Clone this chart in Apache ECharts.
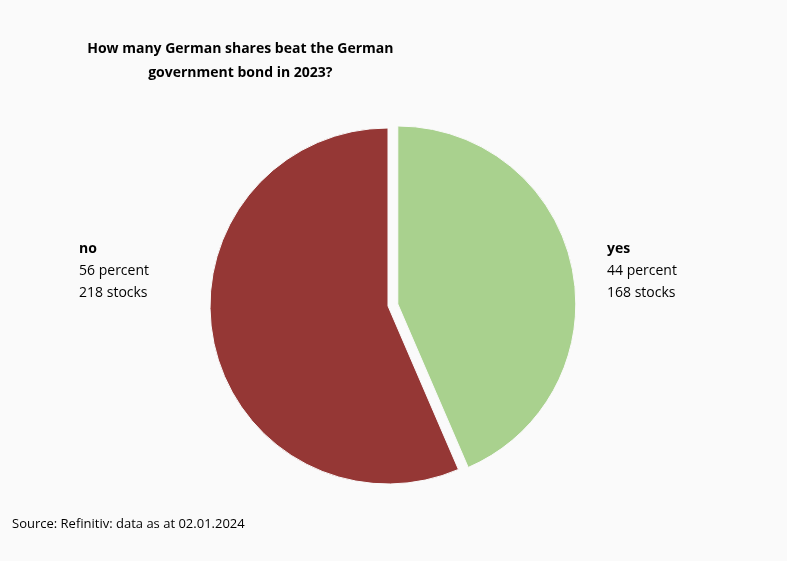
<!DOCTYPE html>
<html>
<head>
<meta charset="utf-8">
<script src="https://cdn.jsdelivr.net/npm/echarts@6/dist/echarts.min.js"></script>
<style>
  html, body { margin: 0; padding: 0; background: #fafafa; }
  #chart { width: 787px; height: 561px; }
</style>
</head>
<body>
<div id="chart"></div>
<script>
var CATEGORIES = ['yes', 'no'];
var STOCKS = [168, 218];
var PERCENTS = [44, 56];
var COLORS = ['#a9d18e', '#953735'];

var chart = echarts.init(document.getElementById('chart'), null, { renderer: 'canvas' });

function labelText(i) {
  return '{b|' + CATEGORIES[i] + '}\n' + PERCENTS[i] + ' percent\n' + STOCKS[i] + ' stocks';
}

var FONT = 'Open Sans, Liberation Sans, sans-serif';

chart.setOption({
  backgroundColor: '#fafafa',
  title: {
    text: 'How many German shares beat the German\ngovernment bond in 2023?',
    left: 'center', top: 32,
    textAlign: 'center',
    textStyle: { fontFamily: FONT, fontSize: 14, fontWeight: 'bold', color: '#000', lineHeight: 24 }
  },
  graphic: [
    {
      type: 'text', left: 12, top: 518,
      style: { text: 'Source: Refinitiv: data as at 02.01.2024', font: '13px ' + FONT, fill: '#000' }
    },
    {
      type: 'text', right: 638, top: 238,
      style: {
        text: labelText(1), align: 'right', font: '14px ' + FONT, fill: '#000', lineHeight: 22,
        rich: { b: { fontWeight: 'bold', fontSize: 14, fontFamily: FONT, lineHeight: 22 } }
      }
    },
    {
      type: 'text', left: 607, top: 238,
      style: {
        text: labelText(0), font: '14px ' + FONT, fill: '#000', lineHeight: 22,
        rich: { b: { fontWeight: 'bold', fontSize: 14, fontFamily: FONT, lineHeight: 22 } }
      }
    }
  ],
  series: [{
    type: 'pie',
    center: [388, 306],
    radius: 178,
    startAngle: 90,
    clockwise: true,
    selectedMode: 'multiple',
    selectedOffset: 10,
    label: { show: false },
    labelLine: { show: false },
    emphasis: { disabled: true },
    itemStyle: { borderColor: '#fafafa', borderWidth: 1 },
    data: CATEGORIES.map(function (c, i) {
      return { name: c, value: STOCKS[i], selected: i === 0, itemStyle: { color: COLORS[i] } };
    })
  }]
});
</script>
</body>
</html>
